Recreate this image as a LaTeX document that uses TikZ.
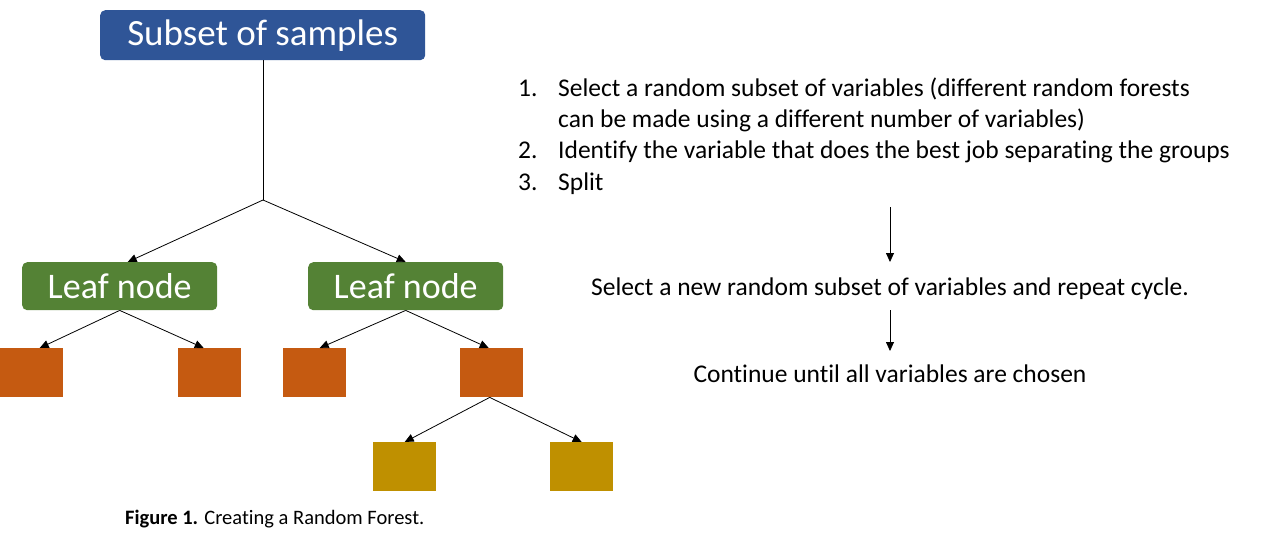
\documentclass[tikz,border=0pt]{standalone}
\usepackage{fontspec}
\setmainfont[Ligatures=NoCommon]{Carlito}
\usetikzlibrary{arrows.meta}
\definecolor{cblue}{HTML}{2F5597}
\definecolor{cgreen}{HTML}{548235}
\definecolor{corange}{HTML}{C55A11}
\definecolor{cgold}{HTML}{BF9000}
\begin{document}
\begin{tikzpicture}[x=1pt,y=-1pt,
  hdr/.style={fill=cblue,rounded corners=5pt,text=white,font=\fontsize{37}{37}\selectfont,minimum width=325pt,minimum height=50pt,anchor=north west,inner sep=0},
  leaf/.style={fill=cgreen,rounded corners=5pt,text=white,font=\fontsize{36}{36}\selectfont,minimum width=195pt,minimum height=48pt,anchor=north west,inner sep=0},
  sq/.style={fill=#1,minimum width=63pt,minimum height=49pt,anchor=north west,inner sep=0},
  arr/.style={-{Triangle[length=9pt,width=8pt]},line width=0.8pt},
  ln/.style={line width=0.8pt},
  txt/.style={font=\fontsize{25.5}{25.5}\selectfont,inner sep=0,anchor=base west}]
\useasboundingbox (0,0) rectangle (1280,543);
\node[hdr] (top) at (100,10) {Subset of samples};
\coordinate (j) at (263,200);
\node[leaf] (l1) at (22,262) {Leaf node};
\node[leaf] (l2) at (308,262) {Leaf node};
\node[sq=corange] (o1) at (0,348) {};
\node[sq=corange] (o2) at (178,348) {};
\node[sq=corange] (o3) at (283,348) {};
\node[sq=corange] (o4) at (460,348) {};
\node[sq=cgold] (g1) at (373,442) {};
\node[sq=cgold] (g2) at (550,442) {};
\draw[ln] (top.south -| j) -- (j);
\draw[arr] (j) -- ([xshift=8pt]l1.north);
\draw[arr] (j) -- (l2.north);
\draw[arr] (l1.south) -- ([xshift=8pt]o1.north);
\draw[arr] (l1.south) -- ([xshift=-6pt]o2.north);
\draw[arr] (l2.south) -- ([xshift=5pt]o3.north);
\draw[arr] (l2.south) -- ([xshift=-3pt]o4.north);
\draw[arr] ([xshift=-2pt]o4.south) -- (g1.north);
\draw[arr] ([xshift=-2pt]o4.south) -- (g2.north);
\node[txt] (n1) at (518,96) {1.};
\node[txt] (t1) at (558,96) {Select a random subset of variables (different random forests};
\node[txt] (t1b) at (558,127) {can be made using a different number of variables)};
\node[txt] (n2) at (518,158) {2.};
\node[txt] (t2) at (558,158) {Identify the variable that does the best job separating the groups};
\node[txt] (n3) at (518,190) {3.};
\node[txt] (t3) at (558,190) {Split};
\coordinate (a1) at (890,207);
\node[txt,anchor=base] (s1) at (890,295) {Select a new random subset of variables and repeat cycle.};
\coordinate (a2) at (890,310);
\node[txt,anchor=base] (s2) at (890,382) {Continue until all variables are chosen};
\draw[arr] (a1) -- (890,262);
\draw[arr] (a2) -- (890,351);
\node[font=\fontsize{20.5}{20.5}\selectfont,anchor=base west,inner sep=0] (cap) at (125,524) {\textbf{Figure 1.} Creating a Random Forest.};
\end{tikzpicture}
\end{document}
